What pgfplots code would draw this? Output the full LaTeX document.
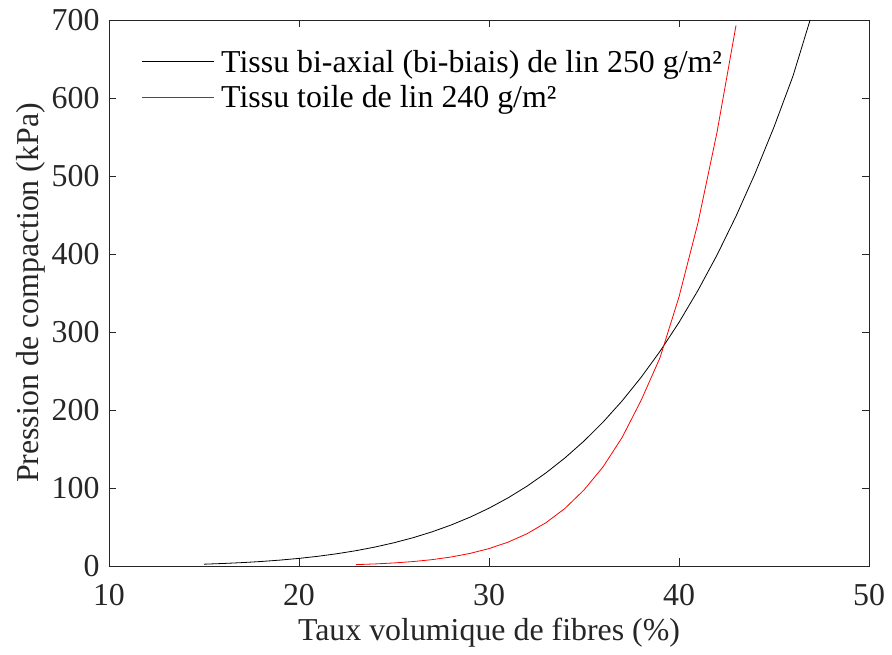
\documentclass[border=0pt]{standalone}
\usepackage{pgfplots}
\pgfplotsset{compat=1.18}
\usepackage{fontspec}
\setmainfont{Liberation Serif}
\definecolor{axgray}{rgb}{0.15,0.15,0.15}
\begin{document}
\begin{tikzpicture}
\begin{axis}[
  scale only axis,
  width=760bp, height=546bp,
  xmin=10, xmax=50, ymin=0, ymax=700,
  xtick={10,20,30,40,50},
  ytick={0,100,200,300,400,500,600,700},
  tick align=inside,
  major tick length=7.5bp,
  axis line style={axgray, line width=0.8bp},
  every tick/.style={axgray, line width=0.8bp},
  /pgf/number format/assume math mode=true,
  tick label style={font=\fontsize{32}{36}\selectfont, text=axgray},
  label style={font=\fontsize{32}{36}\selectfont, text=axgray},
  xticklabel style={yshift=-17bp, inner sep=1bp},
  yticklabel style={xshift=-6bp},
  xlabel style={yshift=-8bp},
  ylabel style={yshift=0bp},
  xlabel={Taux volumique de fibres (\%)},
  ylabel={Pression de compaction (kPa)},
  legend style={draw=none, fill=none, at={(axis cs:11.54,667)}, anchor=north west,
    font=\fontsize{32}{36}\selectfont, row sep=8bp,
    nodes={inner xsep=7bp}},
  legend cell align=left,
  legend image code/.code={\draw[#1] (0bp,0bp) -- (72bp,0bp);},
]
\addplot[black, line width=0.8bp] coordinates {
(15,2.32) (16,3.20) (17,4.33) (18,5.76) (19,7.55) (20,9.76) (21,12.46) (22,15.72)
(23,19.63) (24,24.29) (25,29.79) (26,36.24) (27,43.76) (28,52.49) (29,62.56)
(30,74.1) (31,87.3) (32,102.3) (33,119.4) (34,138.6) (35,160.2) (36,184.4)
(37,211.5) (38,241.7) (39,275.2) (40,312.3) (41,353.4) (42,398.6) (43,448.4)
(44,503.0) (45,562.8) (46,628.2) (46.9,700)
};
\addlegendentry{Tissu bi-axial (bi-biais) de lin 250 g/m²}
\addplot[red, line width=0.8bp] coordinates {
(23,1.75) (24,2.64) (25,3.90) (26,5.67) (27,8.13) (28,11.52) (29,16.12) (30,22.3)
(31,30.52) (32,41.36) (33,55.52) (34,73.87) (35,97.5) (36,127.0) (37,164.5)
(38,212.0) (39,267.0) (40,345.0) (41,440.0) (42,556.0) (43,693)
};
\addlegendentry{Tissu toile de lin 240 g/m²}
\end{axis}
\path ([xshift=-109bp,yshift=-89bp]current axis.south west) rectangle ([xshift=23bp,yshift=20bp]current axis.north east);
\end{tikzpicture}
\end{document}
